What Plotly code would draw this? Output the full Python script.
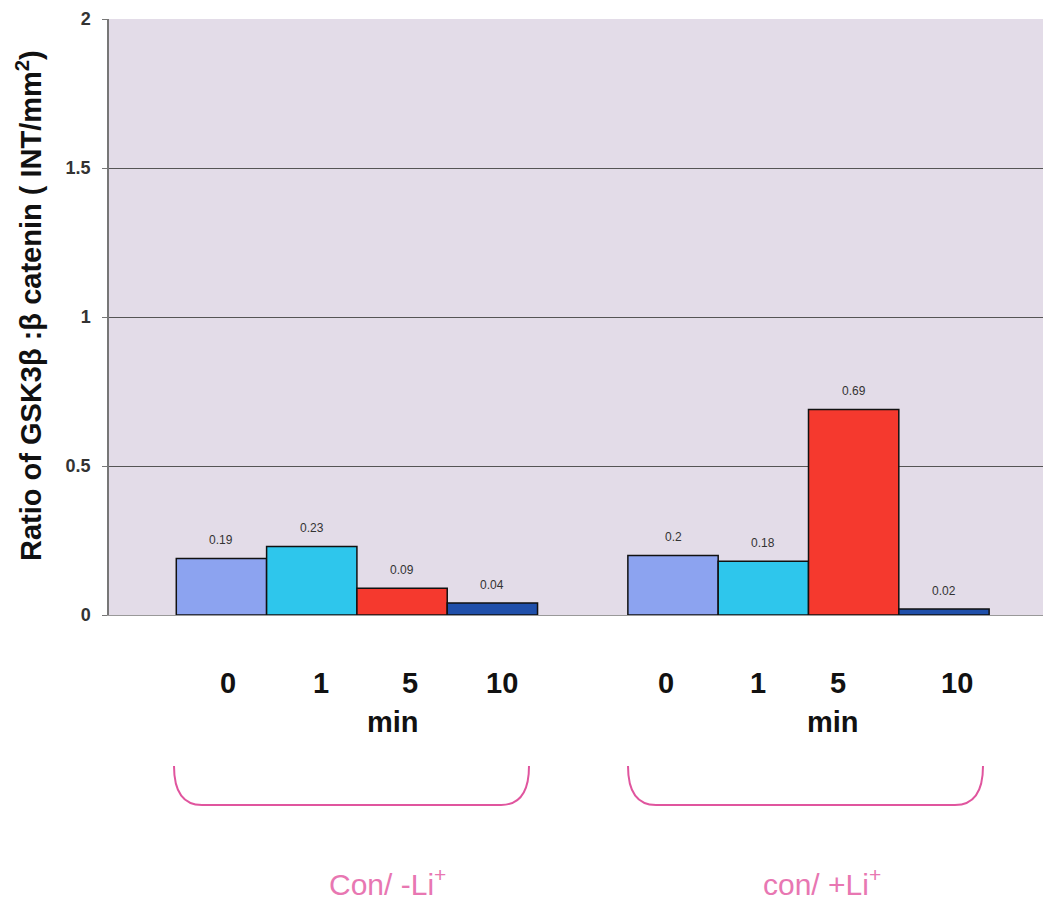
import plotly.graph_objects as go

# ---- data ----
groups = ["Con/ -Li<sup>+</sup>", "con/ +Li<sup>+</sup>"]
minutes = ["0", "1", "5", "10"]
vals_0 = [0.19, 0.20]
vals_1 = [0.23, 0.18]
vals_5 = [0.09, 0.69]
vals_10 = [0.04, 0.02]
series = [vals_0, vals_1, vals_5, vals_10]
colors = ["#8CA3F0", "#2EC6EC", "#F5392E", "#1F4FAA"]
y_ticks = [0, 0.5, 1, 1.5, 2]
y_ticktext = ["0", "0.5", "1", "1.5", "2"]

# ---- layout geometry (page pixels; page body has an 8px margin) ----
OFF = 8
W, H = 1051 - OFF, 900 - OFF
PLOT_L, PLOT_T, PLOT_R, PLOT_B = 109, 19, 1051, 615
L = PLOT_L - OFF
T = PLOT_T - OFF
R = (W + OFF) - PLOT_R
B = (H + OFF) - PLOT_B
PW, PH = PLOT_R - PLOT_L, PLOT_B - PLOT_T


def px(x):
    return (x - PLOT_L) / PW


def py(y):
    return (PLOT_B - y) / PH


fig = go.Figure()
xpos = list(range(len(groups)))
for i, (m, v) in enumerate(zip(minutes, series)):
    fig.add_trace(go.Bar(
        x=xpos, y=v, name=m + " min",
        marker=dict(color=colors[i], line=dict(color="#111111", width=1.5)),
        showlegend=False, hoverinfo="y",
    ))

annotations = []
# data labels
nb = len(series)
bw = 0.8 / nb
for i, v in enumerate(series):
    for g, val in enumerate(v):
        xc = g - 0.4 + bw * (i + 0.5)
        annotations.append(dict(
            x=xc, y=val, xref="x", yref="y", text=f"{val:g}", showarrow=False,
            yanchor="middle", yshift=18,
            font=dict(family="Liberation Sans, Arial", size=12, color="#333333"),
        ))

# custom category labels (minutes) under each group
tick_px = [[228, 321, 410, 502], [666, 758, 838, 957]]
min_px = [393, 833]
group_px = [387, 822]
for g in range(len(groups)):
    for j, m in enumerate(minutes):
        annotations.append(dict(
            x=px(tick_px[g][j]), y=py(683), xref="paper", yref="paper", text=m,
            showarrow=False, xanchor="center", yanchor="middle",
            font=dict(family="Liberation Sans, Arial", size=29, color="#111111", weight="bold"),
        ))
    annotations.append(dict(
        x=px(min_px[g]), y=py(722), xref="paper", yref="paper", text="min",
        showarrow=False, xanchor="center", yanchor="middle",
        font=dict(family="Liberation Sans, Arial", size=29, color="#111111", weight="bold"),
    ))
    annotations.append(dict(
        x=px(group_px[g]), y=py(882), xref="paper", yref="paper", text=groups[g],
        showarrow=False, xanchor="center", yanchor="middle",
        font=dict(family="Liberation Sans, Arial", size=30, color="#E877B2"),
    ))

# y axis title
annotations.append(dict(
    x=px(29), y=py(306), xref="paper", yref="paper",
    text="Ratio of GSK3β :β catenin ( INT/mm<sup>2</sup>)",
    textangle=-90, showarrow=False, xanchor="center", yanchor="middle",
    font=dict(family="Liberation Sans, Arial", size=29, color="#111111", weight="bold"),
))

# brackets
shapes = []
br = [(174, 529), (628, 983)]
ytop, ybot, d = py(766), py(805), 28
for x0, x1 in br:
    path = (f"M {px(x0)},{ytop} Q {px(x0)},{ybot} {px(x0 + d)},{ybot} "
            f"L {px(x1 - d)},{ybot} Q {px(x1)},{ybot} {px(x1)},{ytop}")
    shapes.append(dict(type="path", path=path, xref="paper", yref="paper",
                       line=dict(color="#E0559E", width=2)))

fig.update_layout(
    width=W, height=H,
    margin=dict(l=L, r=R, t=T, b=B),
    paper_bgcolor="white", plot_bgcolor="#E3DCE8",
    barmode="group", bargap=0.2, bargroupgap=0,
    xaxis=dict(range=[-0.549, 1.537], showticklabels=False, showgrid=False,
               zeroline=False, showline=True, linecolor="#999999", linewidth=1,
               fixedrange=True),
    yaxis=dict(range=[0, 2], tickvals=y_ticks, ticktext=y_ticktext,
               showgrid=True, gridcolor="#555555", gridwidth=1,
               zeroline=False, showline=True, linecolor="#777777", linewidth=1.5,
               ticks="outside", ticklen=5, tickcolor="#777777",
               ticklabelstandoff=8,
               tickfont=dict(family="Liberation Sans, Arial", size=18, color="#333333", weight="bold")),
    annotations=annotations,
    shapes=shapes,
)

fig.write_html("out.html")
